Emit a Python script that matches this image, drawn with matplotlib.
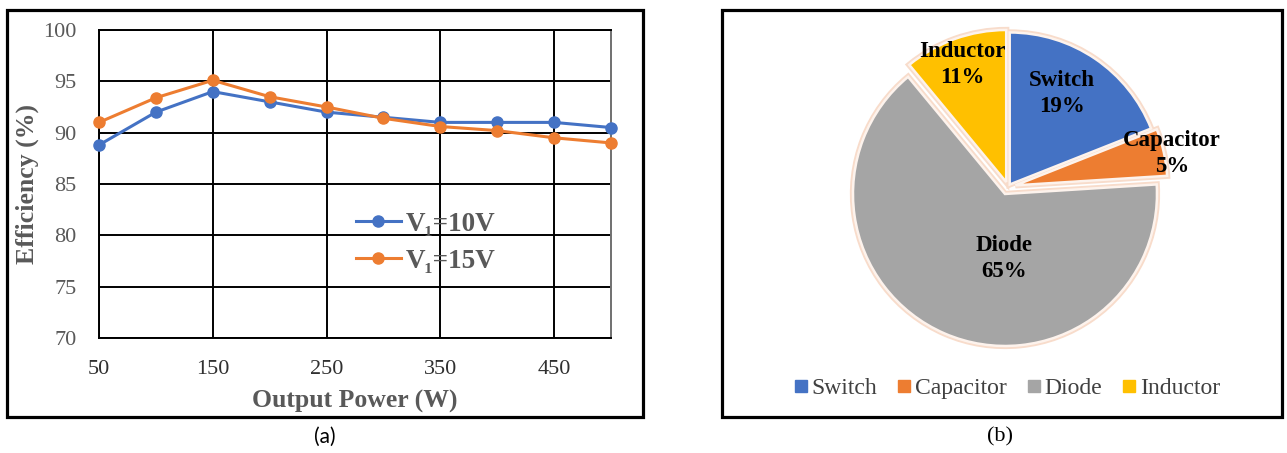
import numpy as np
import matplotlib
matplotlib.use("Agg")
import matplotlib.pyplot as plt
from matplotlib.patches import Rectangle
from matplotlib.lines import Line2D

# ---- data ----
power_w = [50, 100, 150, 200, 250, 300, 350, 400, 450, 500]
eff_10v = [88.8, 92.0, 94.0, 93.0, 92.0, 91.5, 91.0, 91.0, 91.0, 90.5]
eff_15v = [91.0, 93.4, 95.1, 93.5, 92.5, 91.4, 90.6, 90.2, 89.5, 89.0]
series_labels = ["V\u2081=10V", "V\u2081=15V"]
x_ticks = [50, 150, 250, 350, 450]
y_ticks = [70, 75, 80, 85, 90, 95, 100]

loss_parts = ["Switch", "Capacitor", "Diode", "Inductor"]
loss_share = [19, 5, 65, 11]

# ---- style ----
BLUE, ORANGE, GRAY, YELLOW = "#4472C4", "#ED7D31", "#A5A5A5", "#FFC000"
SERIF = ["Liberation Serif", "DejaVu Serif"]
W, H = 1287, 453

fig = plt.figure(figsize=(W / 100, H / 100), dpi=100)
fig.patch.set_facecolor("white")


def fx(px):
    return px / W


def fy(py):
    return 1 - py / H


# panel frames
for x0, x1 in [(7, 643), (722, 1282)]:
    fig.add_artist(Rectangle((fx(x0), fy(417)), fx(x1 - x0), (417 - 10) / H,
                             transform=fig.transFigure, fill=False,
                             edgecolor="black", linewidth=2.3, zorder=0))

# ---- (a) efficiency curves ----
ax = fig.add_axes([fx(99), fy(338), fx(611 - 99), (338 - 30) / H])
ax.plot(power_w, eff_10v, color=BLUE, lw=2.2, marker="o", ms=8,
        label=series_labels[0], zorder=3, clip_on=False)
ax.plot(power_w, eff_15v, color=ORANGE, lw=2.2, marker="o", ms=8,
        label=series_labels[1], zorder=3, clip_on=False)
ax.set_xlim(50, 500)
ax.set_ylim(70, 100)
ax.set_xticks(x_ticks)
ax.set_yticks(y_ticks)
ax.grid(True, color="black", lw=1.4, zorder=1)
ax.set_axisbelow(True)
for side in ["left", "bottom", "top"]:
    ax.spines[side].set_color("black")
    ax.spines[side].set_linewidth(1.4)
ax.spines["right"].set_color("#707070")
ax.spines["right"].set_linewidth(1.4)
ax.tick_params(length=0)
ax.tick_params(axis="x", pad=16, labelsize=16, labelcolor="#303030")
ax.tick_params(axis="y", pad=16, labelsize=16, labelcolor="#595959")
for t in ax.get_xticklabels() + ax.get_yticklabels():
    t.set_fontfamily(SERIF)
ax.set_xlabel("Output Power (W)", fontsize=18.5, fontweight="bold",
              color="#595959", family=SERIF, labelpad=8)
ax.set_ylabel("Efficiency (%)", fontsize=18.5, fontweight="bold",
              color="#595959", family=SERIF, labelpad=3)
leg = ax.legend(loc="upper left", bbox_to_anchor=(0.502, 0.41),
                frameon=False, handlelength=1.65, handletextpad=0.2,
                labelspacing=0.45, borderaxespad=0, borderpad=0,
                prop={"family": SERIF, "size": 19.5, "weight": "bold"})
for t in leg.get_texts():
    t.set_color("#595959")
leg.set_zorder(2)

fig.text(fx(325), fy(437), "(a)", ha="center", va="center",
         fontsize=15, family=["Lato", "DejaVu Sans"], color="black")

# ---- (b) loss distribution ----
cx, cy, R = 1008, 187, 155
half = 190
pax = fig.add_axes([fx(cx - half), fy(cy + half), fx(2 * half), 2 * half / H])
lim = half / R
pax.set_xlim(-lim, lim)
pax.set_ylim(-lim, lim)
pax.set_aspect("equal")
pax.axis("off")

explode = [0.02, 0.05, 0.05, 0.035]
colors = [BLUE, ORANGE, GRAY, YELLOW]
# soft peach rim behind the slices
pax.pie(loss_share, explode=explode, startangle=90, counterclock=False,
        colors=["none"] * 4, radius=1.0,
        wedgeprops=dict(edgecolor="#f8dccb", linewidth=4.5), normalize=True)
wedges, _ = pax.pie(loss_share, explode=explode, startangle=90,
                    counterclock=False, colors=colors, radius=1.0,
                    wedgeprops=dict(edgecolor="#fdf3ed", linewidth=1.8))

# label placement: (radius fraction, angle in degrees) per slice
label_pos = [(0.71, 60.0), (1.10, 11.5), (0.47, -93.0), (0.86, 110.5)]
for name, share, (r, ang) in zip(loss_parts, loss_share, label_pos):
    a = np.deg2rad(ang)
    pax.text(r * np.cos(a), r * np.sin(a), f"{name}\n{share}%",
             ha="center", va="center", fontsize=16.5, fontweight="bold",
             family=SERIF, color="black", linespacing=1.3, zorder=5)

handles = [Line2D([], [], marker="s", ls="none", ms=9, color=c,
                  markeredgecolor=c) for c in colors]
lg = fig.legend(handles, loss_parts, loc="center",
                bbox_to_anchor=(fx(1007), fy(388)), ncol=4, frameon=False,
                handlelength=0.6, handletextpad=0.15, columnspacing=0.85,
                prop={"family": SERIF, "size": 17})
for t in lg.get_texts():
    t.set_color("#404040")

fig.text(fx(1000), fy(437), "(b)", ha="center", va="center",
         fontsize=16, family=SERIF, color="black")

fig.savefig("out.png", dpi=100, facecolor="white")
